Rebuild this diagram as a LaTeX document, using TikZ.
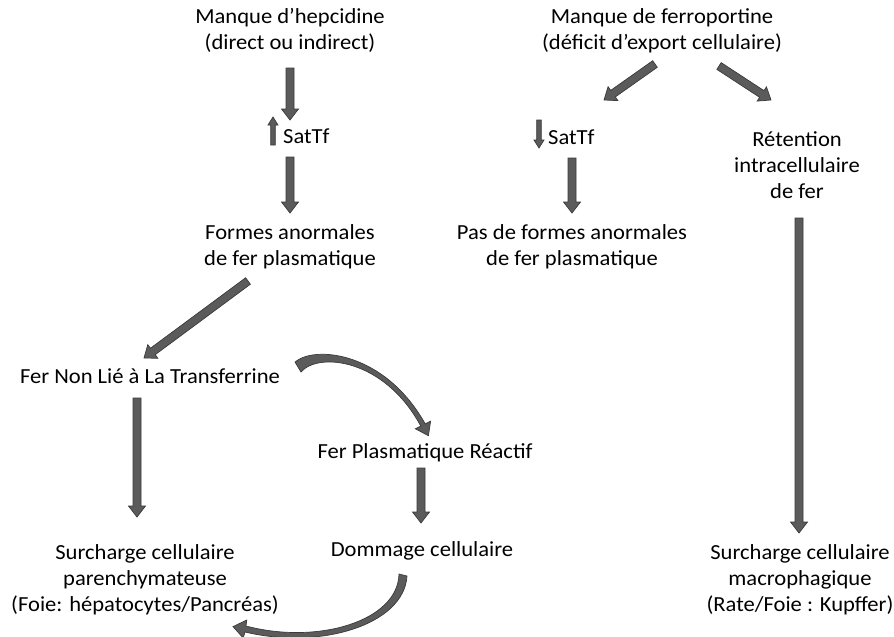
\documentclass[tikz,border=0pt]{standalone}
\usepackage{fontspec}
\setmainfont{Carlito}[FakeStretch=1.05]
\usetikzlibrary{calc}
\definecolor{arrfill}{HTML}{5B5B5B}
\definecolor{arrline}{HTML}{3A3A3A}
\tikzset{
  fatarrow/.style={fill=arrfill, draw=arrline, line width=0.7pt, line join=miter},
  lbl/.style={inner sep=0pt, anchor=base, align=center, font=\fontsize{21.5}{26}\selectfont}
}
% #1 start, #2 end, #3 half shaft, #4 half head, #5 head length
\newcommand{\fatarr}[5]{%
  \filldraw[fatarrow] ($(#1)!#3!90:(#2)$) -- ($(#2)!#5!(#1)!#3!90:(#2)$)
    -- ($(#2)!#5!(#1)!#4!90:(#2)$) -- (#2)
    -- ($(#2)!#5!(#1)!#4!-90:(#2)$) -- ($(#2)!#5!(#1)!#3!-90:(#2)$)
    -- ($(#1)!#3!-90:(#2)$) -- cycle;}
\begin{document}
\begin{tikzpicture}[x=1pt,y=-1pt]
\useasboundingbox (0,0) rectangle (894,637);
% labels (multi-line nodes: base = baseline of last line)
\node[lbl] (hep) at (290,49) {Manque d’hepcidine\\(direct ou indirect)};
\node[lbl] (fpn) at (662,49) {Manque de ferroportine\\(déficit d’export cellulaire)};
\node[lbl, anchor=base west] (sat1) at (283,143) {SatTf};
\node[lbl, anchor=base west] (sat2) at (548,144) {SatTf};
\node[lbl] (form) at (290,265) {Formes anormales\\de fer plasmatique};
\node[lbl] (pas) at (572,265) {Pas de formes anormales\\de fer plasmatique};
\node[lbl] (ret) at (797,198) {Rétention\\intracellulaire\\de fer};
\node[lbl] (ntbi) at (150,383) {Fer Non Lié à La Transferrine};
\node[lbl] (lpi) at (425,458) {Fer Plasmatique Réactif};
\node[lbl] (par) at (145,611) {Surcharge cellulaire\\parenchymateuse\\(Foie: hépatocytes/Pancréas)};
\node[lbl] (dom) at (422,556) {Dommage cellulaire};
\node[lbl] (mac) at (800,611) {Surcharge cellulaire\\macrophagique\\(Rate/Foie : Kupffer)};
% arrow end points
\coordinate (a1s) at (290,68);  \coordinate (a1e) at (290,120);
\coordinate (u1s) at (273,145); \coordinate (u1e) at (273,117);
\coordinate (a2s) at (290,157); \coordinate (a2e) at (290,213);
\coordinate (b1s) at (655,64);  \coordinate (b1e) at (604,100);
\coordinate (b2s) at (719,66);  \coordinate (b2e) at (771,100);
\coordinate (d1s) at (539,120); \coordinate (d1e) at (539,148);
\coordinate (a3s) at (572,158); \coordinate (a3e) at (572,213);
\coordinate (a4s) at (799,218); \coordinate (a4e) at (799,533);
\coordinate (c1s) at (248,281); \coordinate (c1e) at (144,358);
\coordinate (a5s) at (137,398); \coordinate (a5e) at (137,517);
\coordinate (a6s) at (421,468); \coordinate (a6e) at (421,523);
% straight arrows
\fatarr{a1s}{a1e}{4pt}{8.5pt}{11pt}
\fatarr{u1s}{u1e}{2.3pt}{5pt}{8pt}
\fatarr{a2s}{a2e}{4pt}{8.5pt}{11pt}
\fatarr{b1s}{b1e}{4pt}{8.5pt}{11pt}
\fatarr{b2s}{b2e}{4pt}{8.5pt}{11pt}
\fatarr{d1s}{d1e}{2.3pt}{5pt}{8pt}
\fatarr{a3s}{a3e}{4pt}{8.5pt}{11pt}
\fatarr{a4s}{a4e}{4pt}{8.5pt}{11pt}
\fatarr{c1s}{c1e}{4pt}{8.5pt}{11pt}
\fatarr{a5s}{a5e}{4pt}{8.5pt}{11pt}
\fatarr{a6s}{a6e}{4pt}{8.5pt}{11pt}
% curved arrows
\filldraw[fatarrow] (295,362) .. controls (315,345) and (385,352) .. (425.2,423.9)
  -- (430.6,421.2) -- (428.4,435.7) -- (415.4,428.8) -- (420.8,426.1)
  .. controls (384,358) and (318,352) .. (301,372) -- cycle;
\filldraw[fatarrow] (407,576) .. controls (404,625) and (320,650) .. (245,632)
  -- (243.2,638) -- (233,626.6) -- (246.8,620) -- (246,626)
  .. controls (318,645) and (398,621) .. (399,574) -- cycle;
\end{tikzpicture}
\end{document}
